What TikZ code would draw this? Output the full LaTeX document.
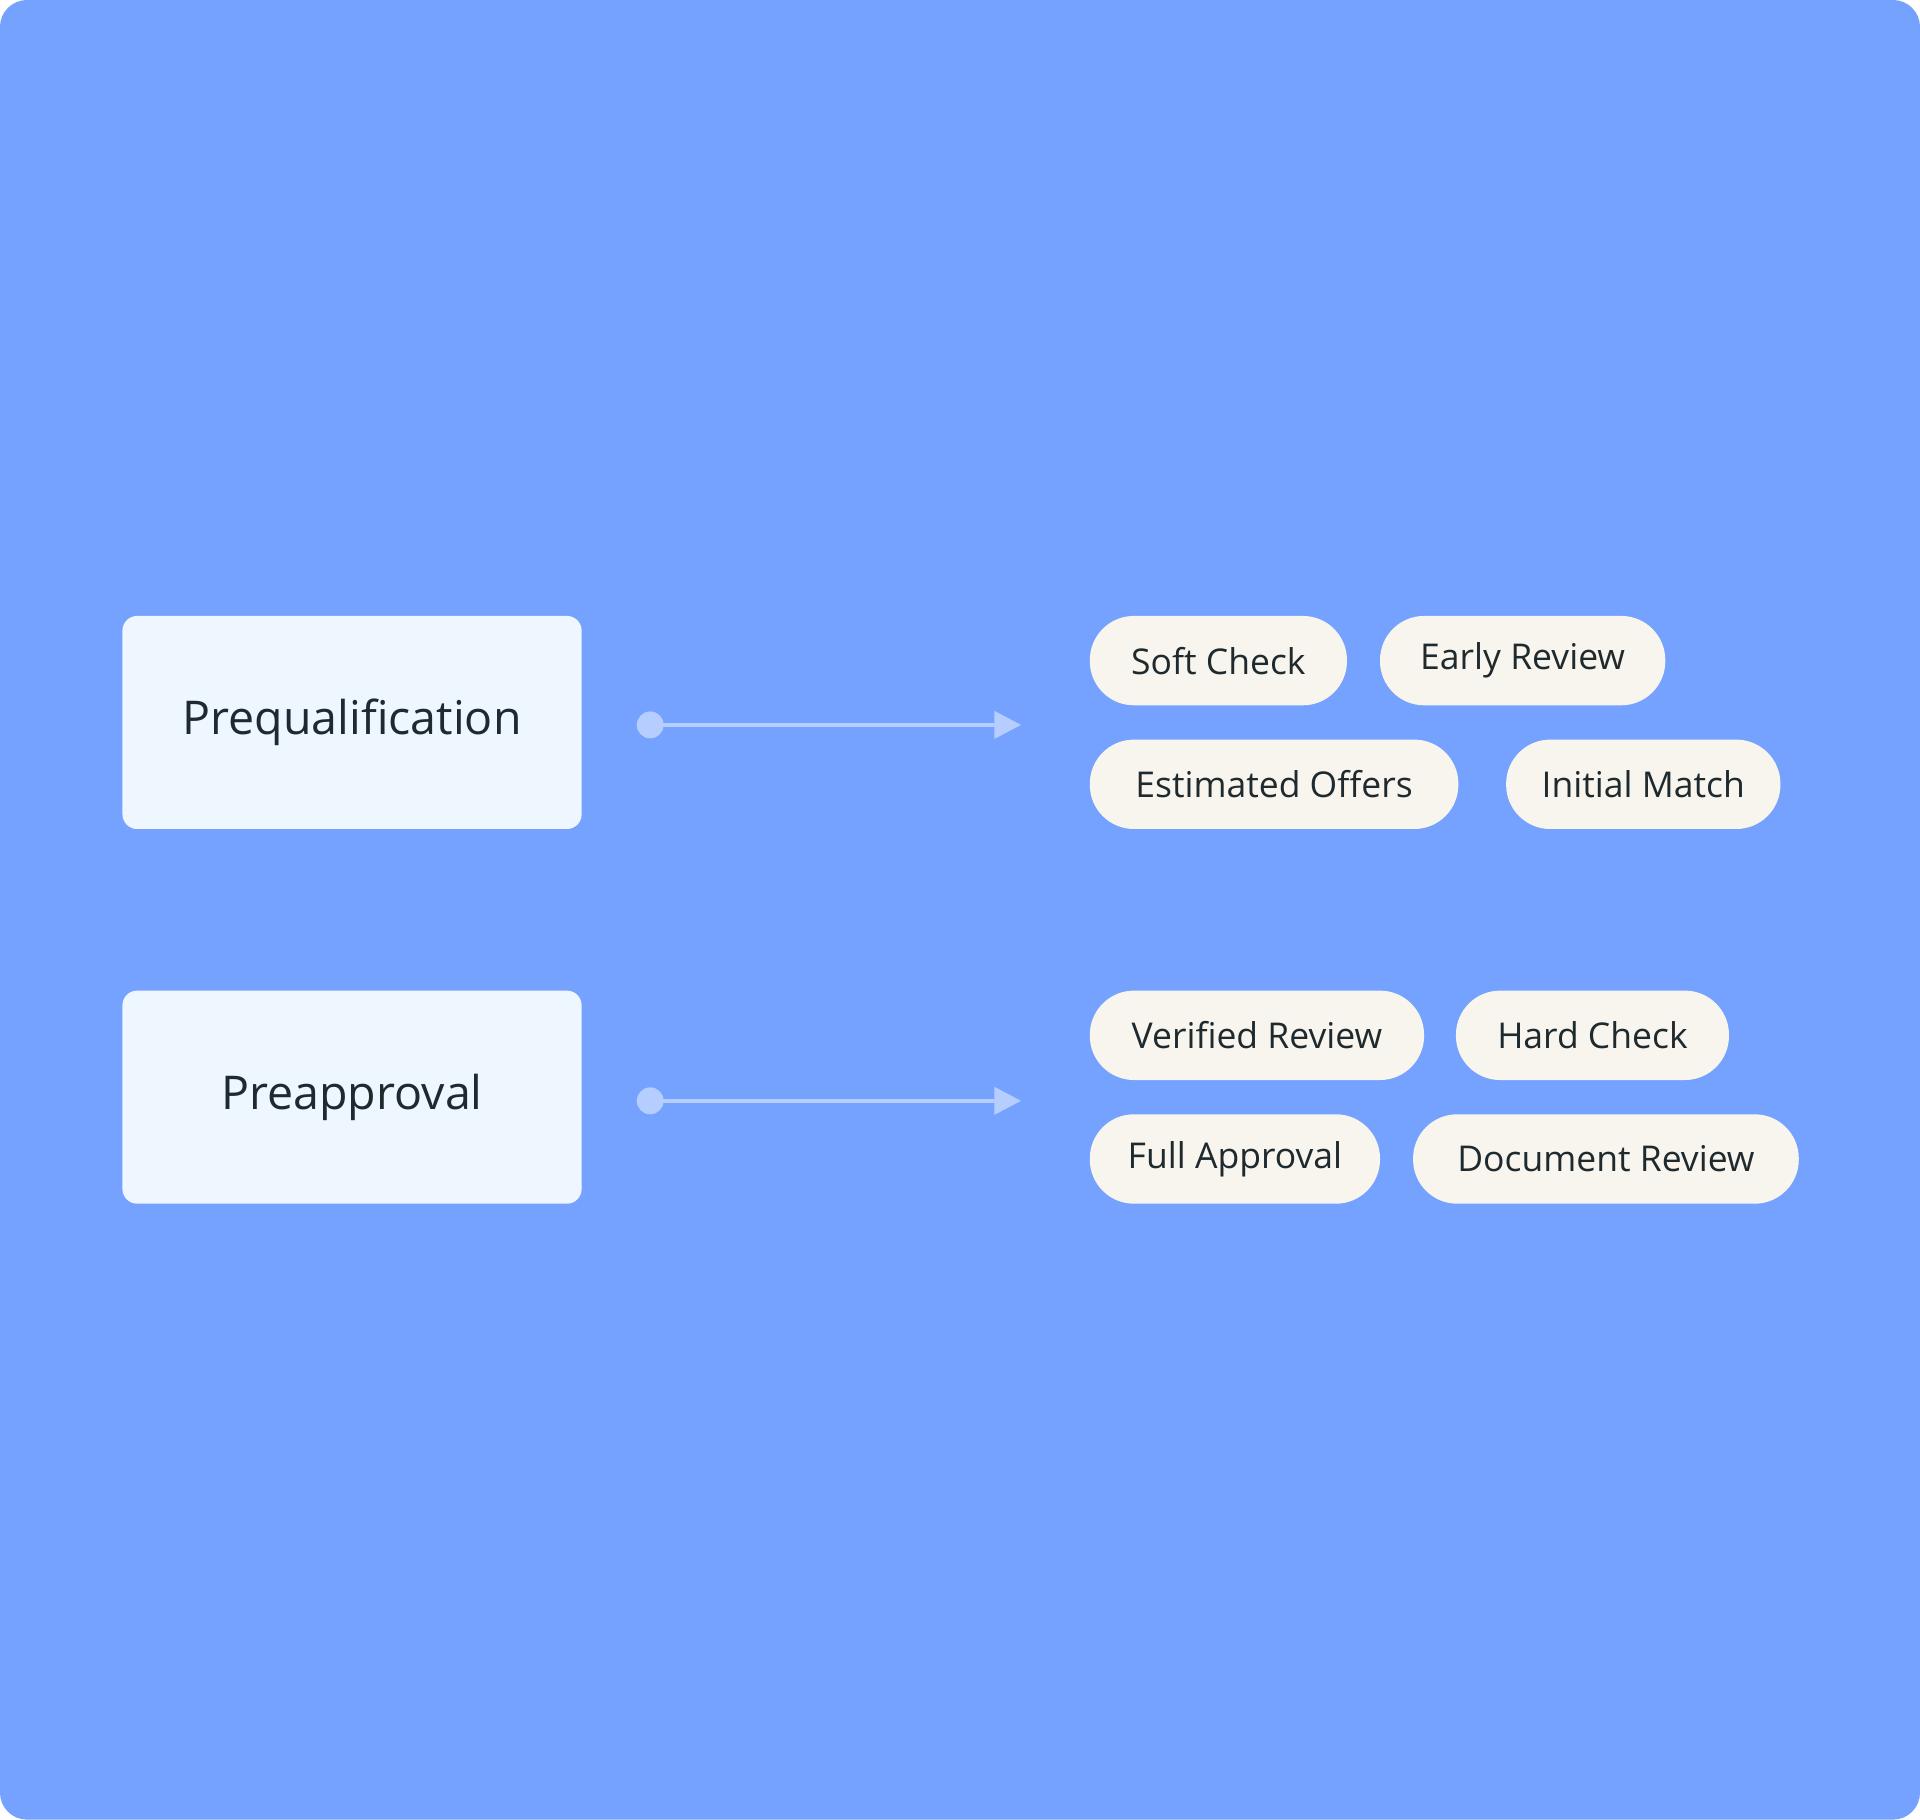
\documentclass[tikz,border=0pt]{standalone}
\usepackage{fontspec}
\setmainfont{Open Sans}
\usetikzlibrary{arrows.meta}
\definecolor{bg}{HTML}{74A2FE}
\definecolor{boxc}{HTML}{EEF7FF}
\definecolor{pillc}{HTML}{F8F5EE}
\definecolor{txt}{HTML}{1F2A2E}
\definecolor{arr}{HTML}{B5CEFF}
\begin{document}
\begin{tikzpicture}[x=1pt,y=-1pt,
  stagebox/.style={fill=boxc,rounded corners=12pt,minimum width=375pt,minimum height=174pt,text=txt,font=\fontsize{38}{40}\selectfont,inner sep=0pt},
  pill/.style={fill=pillc,rounded corners=36pt,minimum height=73pt,text=txt,font=\fontsize{29}{32}\selectfont,inner sep=0pt},
  dotn/.style={circle,fill=arr,minimum size=22pt,inner sep=0pt},
  conn/.style={draw=arr,line width=3.5pt,-{Triangle[length=22pt,width=22pt]}}]
\useasboundingbox (0,0) rectangle (1568,1486);
\fill[white] (0,0) rectangle (1568,1486);
\fill[bg,rounded corners=22pt] (0,0) rectangle (1568,1486);
\node[stagebox] (pq) at (287.5,590) {Prequalification};
\node[stagebox] (pa) at (287.5,896) {Preapproval};
\node[dotn] (d1) at (531,592) {};
\coordinate (e1) at (834,592);
\node[dotn] (d2) at (531,899) {};
\coordinate (e2) at (834,899);
\draw[conn] (d1.center) -- (e1);
\draw[conn] (d2.center) -- (e2);
\node[pill,minimum width=210pt] (sc) at (995,539.5) {Soft Check};
\node[pill,minimum width=233pt] (er) at (1243.5,539.5) {Early Review};
\node[pill,minimum width=301pt] (eo) at (1040.5,640.5) {Estimated Offers};
\node[pill,minimum width=224pt] (im) at (1342,640.5) {Initial Match};
\node[pill,minimum width=273pt] (vr) at (1026.5,845.5) {Verified Review};
\node[pill,minimum width=223pt] (hc) at (1300.5,845.5) {Hard Check};
\node[pill,minimum width=237pt] (fa) at (1008.5,946.5) {Full Approval};
\node[pill,minimum width=315pt] (dr) at (1311.5,946.5) {Document Review};
\end{tikzpicture}
\end{document}
